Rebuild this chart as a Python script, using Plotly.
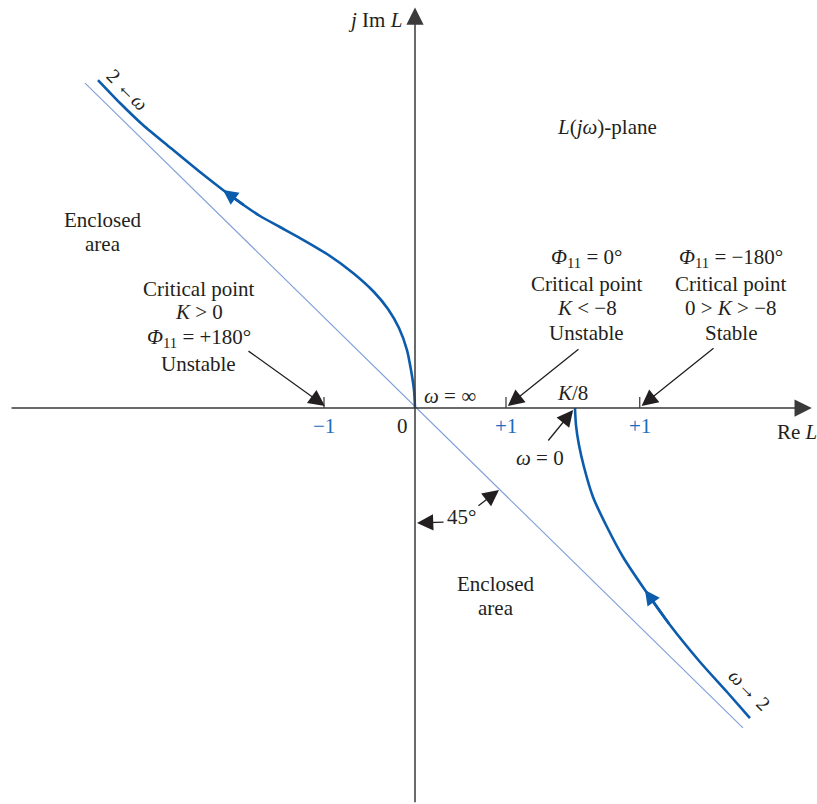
import plotly.graph_objects as go

# Nyquist locus of L(jw): branch starting at w = infinity (origin) going to the upper left
upper_re = [0.0, -0.011, -0.044, -0.088, -0.176, -0.297, -0.451, -0.681, -0.967, -1.264,
            -1.484, -1.703, -1.868, -2.110, -2.363, -2.692, -2.989, -3.242, -3.484]
upper_im = [0.0, 0.198, 0.418, 0.637, 0.879, 1.088, 1.275, 1.484, 1.692, 1.868,
            1.989, 2.110, 2.220, 2.396, 2.593, 2.863, 3.110, 3.352, 3.604]

# Branch starting at w = 0 (point K/8) going to the lower right
lower_re = [1.758, 1.769, 1.802, 1.857, 1.956, 2.110, 2.286, 2.527, 2.802, 3.132, 3.429, 3.681]
lower_im = [0.0, -0.187, -0.407, -0.648, -0.978, -1.308, -1.637, -2.000, -2.385, -2.791,
            -3.121, -3.407]

# 45-degree asymptote through the origin
diag_re = [-3.626, 3.604]
diag_im = [3.571, -3.516]

# Real-axis ticks
tick_re = [-1.0, 1.0, 2.47]
tick_text = ["\u22121", "+1", "+1"]
k8_re = 1.758

# Axis extents
x_axis = [-4.45, 4.36]
y_axis = [-4.35, 4.40]

CURVE = "#0b5cad"
DIAG = "#7f9fd8"
TICKBLUE = "#1a6cbf"
INK = "#231f20"
AXIS = "#3a3a3a"
FONT = "Liberation Serif, Tinos, Times New Roman, DejaVu Serif, serif"
FS = 21

fig = go.Figure()

fig.add_trace(go.Scatter(x=diag_re, y=diag_im, mode="lines",
                         line=dict(color=DIAG, width=1.1), hoverinfo="skip"))
for re_, im_ in ((upper_re, upper_im), (lower_re, lower_im)):
    fig.add_trace(go.Scatter(x=re_, y=im_, mode="lines",
                             line=dict(color=CURVE, width=2.6, shape="spline", smoothing=0.7),
                             hoverinfo="skip"))

# Tick marks above the real axis
tx, ty = [], []
for t in tick_re:
    tx += [t, t, None]
    ty += [0.0, 0.12, None]
fig.add_trace(go.Scatter(x=tx, y=ty, mode="lines", line=dict(color=INK, width=1.1),
                         hoverinfo="skip"))

ann = []


def arrow(x0, y0, x1, y1, color=INK, width=1.3, size=2.5, head=2):
    ann.append(dict(x=x1, y=y1, ax=x0, ay=y0, xref="x", yref="y", axref="x", ayref="y",
                    text="", showarrow=True, arrowhead=head, arrowsize=size,
                    arrowwidth=width, arrowcolor=color, standoff=0, startstandoff=0))


def label(x, y, text, size=FS, color=INK, angle=0):
    ann.append(dict(x=x, y=y, xref="x", yref="y", text=text, showarrow=False,
                    font=dict(family=FONT, size=size, color=color), textangle=angle,
                    xanchor="center", yanchor="middle"))


# Coordinate axes with arrowheads
arrow(x_axis[0], 0, x_axis[1], 0, color=AXIS, width=1.5, size=2.3)
arrow(0, y_axis[0], 0, y_axis[1], color=AXIS, width=1.5, size=2.3)

# Direction arrows on the locus
arrow(upper_re[12], upper_im[12], upper_re[13], upper_im[13], color=CURVE, width=2.6, size=1.15)
arrow(lower_re[8], lower_im[8], lower_re[7], lower_im[7], color=CURVE, width=2.6, size=1.15)

# Pointer arrows
arrow(-1.846, 0.637, tick_re[0] + 0.01, 0.022)
arrow(1.813, 0.659, tick_re[1] + 0.02, 0.022)
arrow(3.297, 0.670, tick_re[2] + 0.02, 0.022)
arrow(1.451, -0.374, k8_re - 0.02, -0.022)
arrow(0.330, -1.253, 0.022, -1.264)
arrow(0.681, -1.088, 0.923, -0.901)

# Tick labels
for t, s in zip(tick_re, tick_text):
    label(t, -0.198, s, color=TICKBLUE)
label(-0.132, -0.198, "0")

# Axis titles
label(-0.44, 4.264, "<i>j</i> Im <i>L</i>")
label(4.198, -0.264, "Re <i>L</i>")
label(2.110, 3.088, "<i>L</i>(<i>j\u03c9</i>)-plane")

label(-3.429, 2.066, "Enclosed")
label(-3.429, 1.802, "area")
label(0.890, -1.934, "Enclosed")
label(0.890, -2.198, "area")

# Critical point notes
label(-2.374, 1.308, "Critical point")
label(-2.374, 1.055, "<i>K</i> > 0")
label(-2.374, 0.769, "<i>\u03a6</i><sub>11</sub> = +180\u00b0")
label(-2.374, 0.484, "Unstable")

label(1.890, 1.648, "<i>\u03a6</i><sub>11</sub> = 0\u00b0")
label(1.890, 1.363, "Critical point")
label(1.890, 1.099, "<i>K</i> < \u22128")
label(1.890, 0.824, "Unstable")

label(3.473, 1.648, "<i>\u03a6</i><sub>11</sub> = \u2212180\u00b0")
label(3.473, 1.363, "Critical point")
label(3.473, 1.099, "0 > <i>K</i> > \u22128")
label(3.473, 0.824, "Stable")

label(0.385, 0.132, "<i>\u03c9</i> = \u221e")
label(1.736, 0.165, "<i>K</i>/8")
label(1.374, -0.549, "<i>\u03c9</i> = 0")
label(0.516, -1.198, "45\u00b0")

label(-3.154, 3.495, "2 \u2190<i>\u03c9</i>", size=20, angle=45)
label(3.681, -3.099, "<i>\u03c9</i>\u2192 2", size=20, angle=45)

fig.update_layout(
    width=817, height=804, autosize=False,
    margin=dict(l=0, r=0, t=0, b=0),
    paper_bgcolor="white", plot_bgcolor="white",
    showlegend=False,
    font=dict(family=FONT, color=INK),
    xaxis=dict(range=[-415 / 91, 402 / 91], visible=False, fixedrange=True),
    yaxis=dict(range=[-396 / 91, 408 / 91], visible=False, fixedrange=True),
    annotations=ann,
)

fig.write_html("out.html")
